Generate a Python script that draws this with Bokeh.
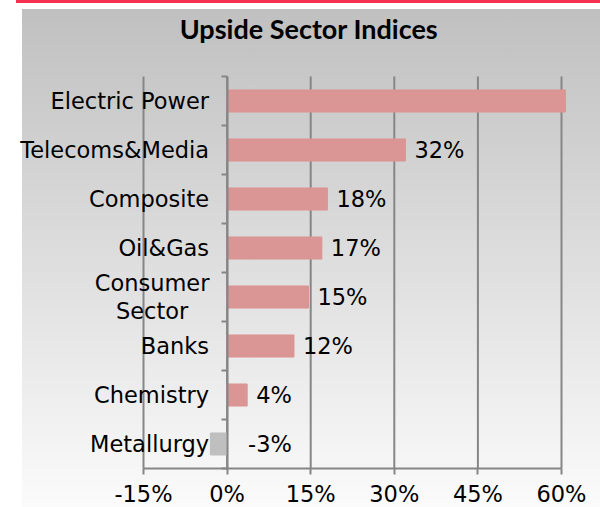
import numpy as np
from bokeh.plotting import figure
from bokeh.models import (ColumnDataSource, Range1d, FixedTicker, PrintfTickFormatter,
                          LabelSet, Label)
from bokeh.core.properties import value
from bokeh.embed import file_html
from bokeh.resources import INLINE

# ---- data ----
categories = ["Electric Power", "Telecoms&Media", "Composite", "Oil&Gas",
              "Consumer\nSector", "Banks", "Chemistry", "Metallurgy"]
values = [60.7, 32, 18, 17, 14.6, 12, 3.6, -3]
x_ticks = [-15, 0, 15, 30, 45, 60]
title_text = "Upside Sector Indices"

# ---- layout / styling ----
W, H = 600, 507
PL, PR, PT, PB = 143, 561, 76, 468        # plot-area pixel box inside the canvas
POS_COLOR = "#da9694"
NEG_COLOR = "#bfbfbf"
AXIS_COLOR = "#868686"
FONT = "DejaVu Sans"
FSIZE = "22.5px"
LINE_H = 1.05
CAT_STANDOFF = 12          # gap after the 6px tick marks
MULTI_HALF_W = 57          # half width of the widest line of a wrapped category label

n = len(categories)
xmin, xmax = x_ticks[0], x_ticks[-1]
kx = (PR - PL) / (xmax - xmin)
ky = (PB - PT) / n
x_range = Range1d(xmin - PL / kx, xmax + (W - PR) / kx)
y_range = Range1d(-(H - PB) / ky, n + PT / ky)

centers = [n - 0.5 - i for i in range(n)]
colors = [POS_COLOR if v >= 0 else NEG_COLOR for v in values]
label_x = [max(v, 0) for v in values]
label_off = [9 if v >= 0 else 21 for v in values]
label_txt = [f"{v:.0f}%" if v <= xmax else "" for v in values]

src = ColumnDataSource(dict(y=centers, v=values, c=colors, lx=label_x,
                            xoff=label_off, txt=label_txt))

bg = ("linear-gradient(#f4324f, #f4324f) 16px 0px / 584px 3px no-repeat, "
      "linear-gradient(to bottom, #c0c0c0, #fbfbfb) 22px 9px / 578px 498px no-repeat, "
      "#ffffff")

p = figure(width=W, height=H, x_range=x_range, y_range=y_range,
           output_backend="svg", toolbar_location=None,
           min_border=0, min_border_left=0, min_border_right=0,
           min_border_top=0, min_border_bottom=0,
           background_fill_color=None, border_fill_color=None, outline_line_color=None,
           styles={"background": bg})

p.xgrid.visible = False
p.ygrid.visible = False

# vertical grid lines over the plot area only
p.segment(x0=x_ticks, x1=x_ticks, y0=0, y1=n, line_color=AXIS_COLOR, line_width=2)

p.hbar(y="y", left=0, right="v", height=0.45, color="c", source=src)

p.add_layout(LabelSet(x="lx", y="y", text="txt", x_offset="xoff", source=src,
                      text_font=value(FONT), text_font_size=FSIZE, text_color="black",
                      text_baseline="middle", text_align="left"))

# x axis at y = 0
xa = p.xaxis[0]
xa.fixed_location = 0
xa.bounds = (xmin, xmax)
xa.ticker = FixedTicker(ticks=x_ticks)
xa.formatter = PrintfTickFormatter(format="%d%%")
xa.axis_line_color = AXIS_COLOR
xa.axis_line_width = 2
xa.major_tick_line_color = AXIS_COLOR
xa.major_tick_line_width = 2
xa.major_tick_out = 6
xa.major_tick_in = 0
xa.minor_tick_line_color = None
xa.major_label_text_font = FONT
xa.major_label_text_font_size = FSIZE
xa.major_label_text_color = "black"
xa.major_label_standoff = 6

# y axis at x = 0 (single-line category names as tick labels)
single = [(c, name) for c, name in zip(centers, categories) if "\n" not in name]
multi = [(c, name) for c, name in zip(centers, categories) if "\n" in name]

ya = p.yaxis[0]
ya.fixed_location = 0
ya.bounds = (0, n)
ya.ticker = FixedTicker(ticks=[c for c, _ in single], minor_ticks=list(range(n + 1)))
ya.major_label_overrides = {float(c): name for c, name in single}
ya.axis_line_color = AXIS_COLOR
ya.axis_line_width = 2
ya.major_tick_out = 0
ya.major_tick_in = 0
ya.minor_tick_out = 6
ya.minor_tick_in = 0
ya.minor_tick_line_color = AXIS_COLOR
ya.minor_tick_line_width = 2
ya.major_label_text_font = FONT
ya.major_label_text_font_size = FSIZE
ya.major_label_text_color = "black"
ya.major_label_standoff = CAT_STANDOFF

# wrapped category names: lines centred on each other, block right-aligned by the axis
msrc = ColumnDataSource(dict(y=[c for c, _ in multi], t=[name for _, name in multi],
                             x=[0] * len(multi)))
p.text(x="x", y="y", text="t", source=msrc, x_offset=-(6 + CAT_STANDOFF + MULTI_HALF_W),
       text_font=value(FONT), text_font_size=FSIZE, text_color="black",
       text_align="center", text_baseline="middle", text_line_height=LINE_H)

p.add_layout(Label(x=308.5, y=H - 28, x_units="screen", y_units="screen", text=title_text,
                   text_font="Lato", text_font_style="bold", text_font_size="27px",
                   text_color="black", text_align="center", text_baseline="alphabetic"))

open("out.html", "w").write(file_html(p, INLINE))
